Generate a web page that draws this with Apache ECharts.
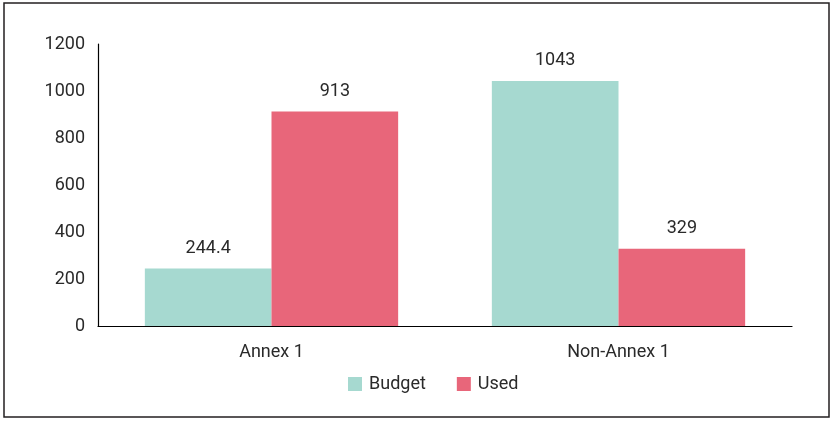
<!DOCTYPE html>
<html>
<head>
<meta charset="utf-8">
<script src="https://cdn.jsdelivr.net/npm/echarts@6/dist/echarts.min.js"></script>
<style>
  html, body { margin: 0; padding: 0; background: #fff; }
  #chart { width: 837px; height: 425px; }
</style>
</head>
<body>
<div id="chart"></div>
<script>
const categories = ['Annex 1', 'Non-Annex 1']
const budget = [244.4, 1043]
const used = [913, 329]
const yTicks = { min: 0, max: 1200, interval: 200 }

const font = 'Roboto, "DejaVu Sans", sans-serif'
const textColor = '#2a2a2a'
const fontSize = 18

let chart = echarts.init(document.getElementById('chart'))
chart.setOption({
  animation: false,
  textStyle: { fontFamily: font },
  graphic: [
    {
      type: 'rect',
      shape: { x: 4, y: 3, width: 825, height: 414 },
      style: { fill: 'none', stroke: '#231f20', lineWidth: 1.5 }
    }
  ],
  grid: { left: 98, right: 45, top: 44, bottom: 99 },
  legend: {
    bottom: 27,
    left: 343,
    itemWidth: 14,
    itemHeight: 14,
    itemGap: 31,
    icon: 'rect',
    textStyle: { fontSize: fontSize, color: textColor, fontFamily: font, padding: [0, 0, 0, 2] }
  },
  xAxis: {
    type: 'category',
    data: categories,
    axisLine: { lineStyle: { color: '#000', width: 1.2 } },
    axisTick: { show: false },
    axisLabel: { margin: 17, fontSize: fontSize, color: textColor, fontFamily: font }
  },
  yAxis: {
    type: 'value',
    min: yTicks.min,
    max: yTicks.max,
    interval: yTicks.interval,
    splitLine: { show: false },
    axisLine: { show: true, lineStyle: { color: '#000', width: 1.2 } },
    axisTick: { show: false },
    axisLabel: {
      margin: 13, fontSize: fontSize, color: textColor, fontFamily: font,
      formatter: v => String(v)
    }
  },
  series: [
    {
      name: 'Budget',
      type: 'bar',
      data: budget,
      barGap: '0%',
      barCategoryGap: '27%',
      itemStyle: { color: '#a6d9d0' },
      label: { show: true, position: 'top', distance: 11, fontSize: fontSize, color: textColor, fontFamily: font }
    },
    {
      name: 'Used',
      type: 'bar',
      data: used,
      barGap: '0%',
      barCategoryGap: '27%',
      itemStyle: { color: '#e8667a' },
      label: { show: true, position: 'top', distance: 11, fontSize: fontSize, color: textColor, fontFamily: font }
    }
  ]
})
</script>
</body>
</html>
